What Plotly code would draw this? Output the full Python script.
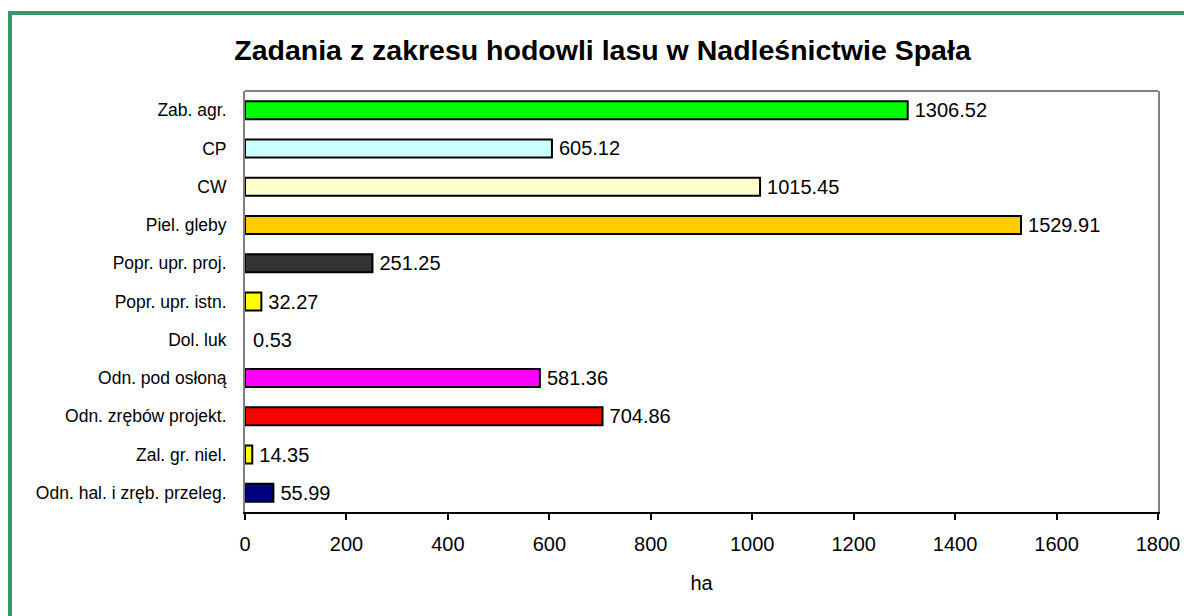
import plotly.graph_objects as go

categories = [
    "Zab. agr.",
    "CP",
    "CW",
    "Piel. gleby",
    "Popr. upr. proj.",
    "Popr. upr. istn.",
    "Dol. luk",
    "Odn. pod osłoną",
    "Odn. zrębów projekt.",
    "Zal. gr. niel.",
    "Odn. hal. i zręb. przeleg.",
]
values = [1306.52, 605.12, 1015.45, 1529.91, 251.25, 32.27, 0.53, 581.36, 704.86, 14.35, 55.99]
colors = ["#00FF00", "#CCFFFF", "#FFFFCC", "#FFCC00", "#333333", "#FFFF00",
          "#FFFFFF", "#FF00FF", "#FF0000", "#FFFF00", "#000080"]
x_ticks = [0, 200, 400, 600, 800, 1000, 1200, 1400, 1600, 1800]
title_text = "Zadania z zakresu hodowli lasu w Nadleśnictwie Spała"
x_title = "ha"

FONT = "Liberation Sans, Arial, sans-serif"
W, H = 1184, 616
L, R, T, B = 245, 26, 91, 104
PW, PH = W - L - R, H - T - B

def px_x(p):
    return (p - L) / PW

def px_y(p):
    return 1 - (p - T) / PH

# outline hidden for bars too thin to show (as in the reference)
line_widths = [2 if v >= 1 else 0 for v in values]

fig = go.Figure(go.Bar(
    x=values,
    y=categories,
    orientation="h",
    marker=dict(color=colors, line=dict(color="black", width=line_widths)),
    text=["\u2009" + f"{v:.2f}" for v in values],
    textposition="outside",
    constraintext="none",
    textfont=dict(family=FONT, size=20, color="black"),
    cliponaxis=False,
    hoverinfo="x+y",
))

fig.update_layout(
    width=W, height=H,
    margin=dict(l=L, r=R, t=T, b=B, pad=0, autoexpand=False),
    paper_bgcolor="white",
    plot_bgcolor="white",
    showlegend=False,
    bargap=0.53,
    font=dict(family=FONT, color="black"),
    title=dict(
        text=f"<b>{title_text}</b>",
        font=dict(family=FONT, size=28.5, color="black"),
        xref="container", x=602.5 / W, xanchor="center",
        yref="container", y=1 - 50 / H, yanchor="middle",
    ),
    xaxis=dict(
        range=[0, 1800],
        tickvals=x_ticks,
        ticktext=[str(t) for t in x_ticks],
        showgrid=False,
        zeroline=False,
        automargin=False,
        showline=True, linecolor="black", linewidth=2,
        ticks="outside", ticklen=6, tickwidth=1.5, tickcolor="black",
        tickfont=dict(family=FONT, size=20, color="black"),
        ticklabelstandoff=7,
        title=dict(text=x_title, font=dict(family=FONT, size=20, color="black"), standoff=22),
    ),
    yaxis=dict(
        autorange="reversed",
        showgrid=False,
        zeroline=False,
        automargin=False,
        showline=True, linecolor="#808080", linewidth=2, mirror=True,
        ticks="",
        tickfont=dict(family=FONT, size=17.5, color="black"),
        ticklabelstandoff=13,
    ),
    shapes=[
        dict(type="line", xref="paper", yref="paper", x0=0, x1=1, y0=1, y1=1,
             line=dict(color="#808080", width=2)),
        dict(type="line", xref="paper", yref="paper", x0=px_x(10), x1=px_x(W + 20),
             y0=px_y(13), y1=px_y(13), line=dict(color="#339966", width=4)),
        dict(type="line", xref="paper", yref="paper", x0=px_x(10), x1=px_x(10),
             y0=px_y(11), y1=px_y(H + 20), line=dict(color="#339966", width=4)),
    ],
)

fig.write_html(
    "out.html",
    config={"displayModeBar": False},
    post_script="document.body.style.margin='0px';document.body.style.overflow='hidden';",
)
